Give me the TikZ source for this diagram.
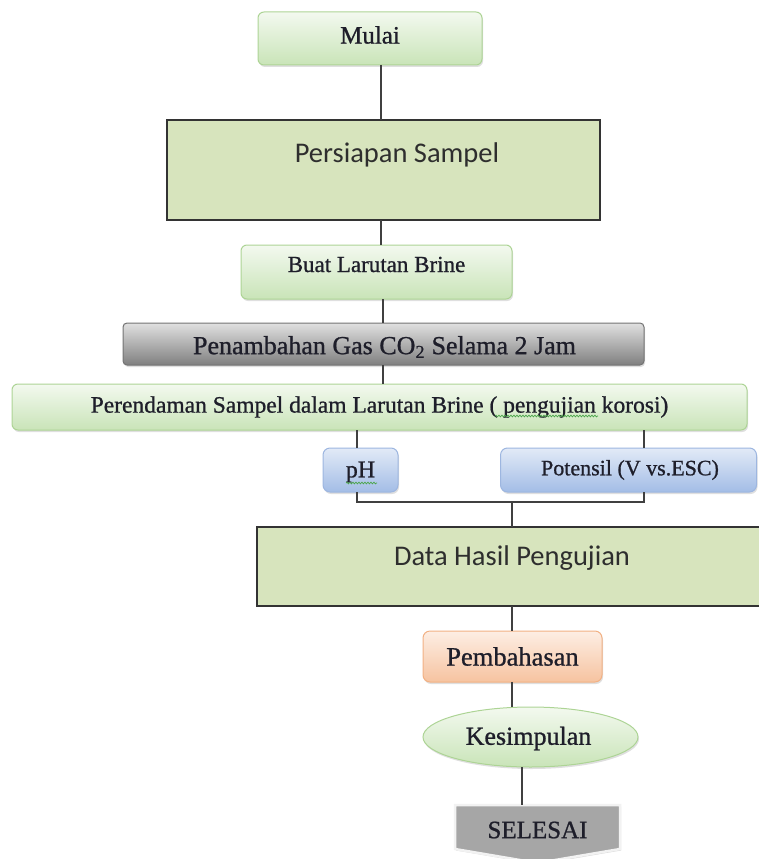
\documentclass[tikz,border=0pt]{standalone}
\usepackage{fontspec}
\setmainfont{Liberation Serif}
\newfontfamily\carlitofont{Carlito}
\usetikzlibrary{shadows,shapes.geometric,decorations.pathmorphing}
\definecolor{gtop}{HTML}{F3F9EF}
\definecolor{gbot}{HTML}{C9E4B8}
\definecolor{gline}{HTML}{ADD495}
\definecolor{btop}{HTML}{E2EAF7}
\definecolor{bbot}{HTML}{A3BDE6}
\definecolor{bline}{HTML}{9DB6E0}
\definecolor{otop}{HTML}{FDEEE4}
\definecolor{obot}{HTML}{F6C3A0}
\definecolor{oline}{HTML}{F2B184}
\definecolor{olive}{HTML}{D7E4BD}
\definecolor{dline}{HTML}{333333}
\definecolor{conn}{HTML}{404040}
\definecolor{txt}{HTML}{1E1E2A}
\definecolor{squig}{HTML}{4CA64C}
\begin{document}
\begin{tikzpicture}[x=1pt,y=-1pt,
  shd/.style={drop shadow={opacity=0.25,shadow xshift=1pt,shadow yshift=-2pt}},
  base/.style={inner sep=0pt,outer sep=0pt},
  greenbox/.style={base,draw=gline,line width=1pt,rounded corners=6pt,
    top color=gtop,bottom color=gbot,shd},
  bluebox/.style={base,draw=bline,line width=1pt,rounded corners=7pt,
    top color=btop,bottom color=bbot,shd},
  orangebox/.style={base,draw=oline,line width=1pt,rounded corners=7pt,
    top color=otop,bottom color=obot,shd},
  graybox/.style={base,draw=black!55,line width=1pt,rounded corners=4pt,
    top color=black!12,bottom color=black!50,shd},
  olivebox/.style={base,draw=dline,line width=2pt,fill=olive},
  conn/.style={draw=conn,line width=1.6pt},
  squiggle/.style={draw=squig,line width=0.7pt,decorate,
    decoration={snake,amplitude=0.9pt,segment length=3pt}},
  every label/.style={text=txt,inner sep=0pt},
  ser/.style={font=\fontsize{#1}{#1}\selectfont\addfontfeature{FakeBold=0.9}},
  sans/.style={font=\carlitofont\fontsize{#1}{#1}\selectfont,text=black!82}
]
\useasboundingbox (0,0) rectangle (758,859);

% columns for connectors
\coordinate (ax) at (381,0);
\coordinate (bx) at (383,0);
\coordinate (lx) at (357,0);
\coordinate (rx) at (644,0);
\coordinate (jn) at (512,502);
\coordinate (sx) at (522,0);

\node[greenbox,minimum width=224,minimum height=53,
  label={[ser=25,yshift=3.5pt]center:Mulai}] (mulai) at (370,38.5) {};
\node[olivebox,minimum width=433,minimum height=100,
  label={[sans=28.5,xshift=13.5pt,yshift=15pt]center:Persiapan Sampel}] (persiapan) at (383.5,170) {};
\node[greenbox,minimum width=271,minimum height=54,
  label={[ser=23,yshift=7.5pt]center:Buat Larutan Brine}] (buat) at (376.5,272) {};
\node[graybox,minimum width=521,minimum height=42,
  label={[ser=26,xshift=1pt,yshift=-3pt]center:Penambahan Gas CO\textsubscript{2} Selama 2 Jam}] (gas) at (383.5,344) {};
\node[greenbox,minimum width=735,minimum height=46,
  label={[ser=23.5]center:Perendaman Sampel dalam Larutan Brine ( pengujian korosi)}] (rendam) at (379.5,407) {};
\node[bluebox,minimum width=75,minimum height=44,
  label={[ser=24,yshift=-2pt]center:pH}] (ph) at (360.5,470) {};
\node[bluebox,minimum width=256,minimum height=44,
  label={[ser=22,xshift=1.5pt]center:Potensil (V vs.ESC)}] (potensil) at (628.5,470) {};
\node[olivebox,minimum width=510,minimum height=79,
  label={[sans=28.5,yshift=8pt]center:Data Hasil Pengujian}] (data) at (512,566.5) {};
\node[orangebox,minimum width=179,minimum height=51,
  label={[ser=26.5]center:Pembahasan}] (bahas) at (512.5,656.5) {};
\node[base,ellipse,draw=gline,line width=1pt,top color=gtop,bottom color=gbot,shd,
  minimum width=215,minimum height=60,
  label={[ser=26,xshift=-2pt,yshift=-1.5pt]center:Kesimpulan}] (simpul) at (530.5,737) {};

% spell-check squiggles
\draw[squiggle] (495,416) -- (598,416);
\draw[squiggle] (346,483) -- (377,483);

% SELESAI end shape
\coordinate (stop) at (522,805);
\path[fill=black!35,draw=black!5,line width=2.5pt,
  drop shadow={opacity=0.3,shadow xshift=1pt,shadow yshift=-1.5pt}]
  (455,805) -- (620,805) -- (620,849) -- (537.5,863) -- (455,849) -- cycle;
\node[ser=25,text=txt] (selesai) at (537.5,830) {SELESAI};

% connectors
\draw[conn] (mulai.south -| ax) -- (persiapan.north -| ax);
\draw[conn] (persiapan.south -| ax) -- (buat.north -| ax);
\draw[conn] (buat.south -| bx) -- (gas.north -| bx);
\draw[conn] (gas.south -| bx) -- (rendam.north -| bx);
\draw[conn] (rendam.south -| lx) -- (ph.north -| lx);
\draw[conn] (rendam.south -| rx) -- (potensil.north -| rx);
\draw[conn] (ph.south -| lx) |- (jn) -| (potensil.south -| rx);
\draw[conn] (jn) -- (data.north -| jn);
\draw[conn] (data.south -| jn) -- (bahas.north -| jn);
\draw[conn] (bahas.south -| jn) -- (simpul.north -| jn);
\draw[conn] (simpul.south -| sx) -- (stop);
\end{tikzpicture}
\end{document}
